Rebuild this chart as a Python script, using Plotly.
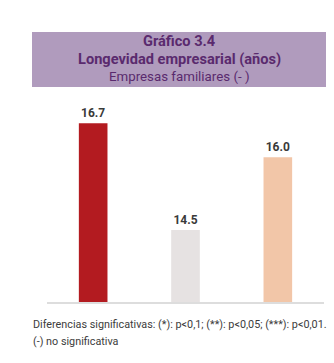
import plotly.graph_objects as go

categories = ["A", "B", "C"]
values = [16.7, 14.5, 16.0]
labels = ["16.7", "14.5", "16.0"]
colors = ["#b31b20", "#e6e2e2", "#f2c6a8"]

W, H = 334, 363
L, R, T, B = 47, 10, 100, 61
pw, ph = W - L - R, H - T - B

def px(x):
    return (x - L) / pw

def py(y):
    return (H - B - y) / ph

fig = go.Figure()
fig.add_trace(go.Bar(
    x=categories, y=values, marker=dict(color=colors, line=dict(width=0)),
    width=0.31, text=labels, textposition="outside",
    textfont=dict(family="Roboto", size=12, color="#3a3a3a", weight="bold"),
    cliponaxis=False, hoverinfo="skip",
))

fig.add_shape(type="rect", xref="paper", yref="paper",
              x0=px(32), x1=px(326), y0=py(87), y1=py(32),
              fillcolor="#b09bbd", line=dict(width=0), layer="below")

title_color = "#5a2a6e"
fig.add_annotation(xref="paper", yref="paper", x=px(179), y=py(41.5),
                   yanchor="middle", borderpad=0,
                   text="<b>Gráfico 3.4</b>", showarrow=False,
                   font=dict(family="Roboto", size=14.6, color=title_color))
fig.add_annotation(xref="paper", yref="paper", x=px(179), y=py(59),
                   yanchor="middle", borderpad=0,
                   text="<b>Longevidad empresarial (años)</b>", showarrow=False,
                   font=dict(family="Roboto", size=14.6, color=title_color))
fig.add_annotation(xref="paper", yref="paper", x=px(179), y=py(76.5),
                   yanchor="middle", borderpad=0,
                   text="Empresas familiares (- )", showarrow=False,
                   font=dict(family="Roboto", size=13.3, color=title_color))

fig.add_annotation(xref="paper", yref="paper", x=px(31), y=py(324),
                   xanchor="left", yanchor="middle",
                   text="Diferencias significativas: (*): p<0,1; (**): p<0,05; (***): p<0,01.",
                   showarrow=False,
                   font=dict(family="Roboto", size=10.8, color="#3c3c3c"))
fig.add_annotation(xref="paper", yref="paper", x=px(31), y=py(341),
                   xanchor="left", yanchor="middle",
                   text="(-) no significativa", showarrow=False,
                   font=dict(family="Roboto", size=10.8, color="#3c3c3c"))

fig.update_layout(
    width=W, height=H, margin=dict(l=L, r=R, t=T, b=B),
    paper_bgcolor="white", plot_bgcolor="white", showlegend=False,
    xaxis=dict(showticklabels=False, showline=True, linecolor="#dddddd",
               linewidth=2, ticks="", showgrid=False, zeroline=False),
    yaxis=dict(range=[13.02, 13.02 + ph / 48.6], visible=False,
               showgrid=False, zeroline=False),
)

fig.write_html("out.html")
